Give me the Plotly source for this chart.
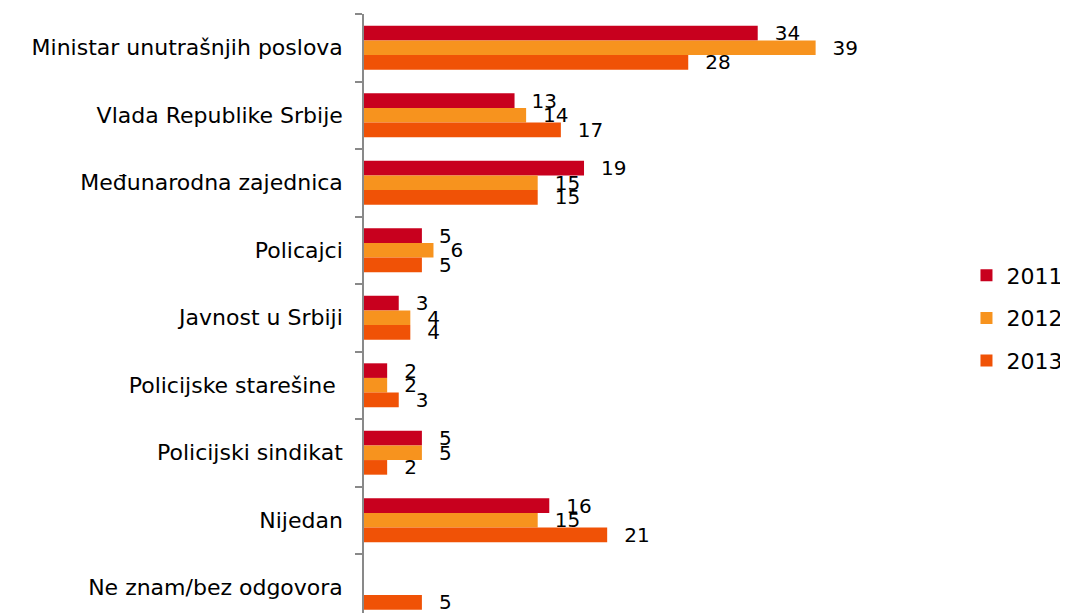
import plotly.graph_objects as go

categories = [
    "Ministar unutrašnjih poslova",
    "Vlada Republike Srbije",
    "Međunarodna zajednica",
    "Policajci",
    "Javnost u Srbiji",
    "Policijske starešine\u00a0",
    "Policijski sindikat",
    "Nijedan",
    "Ne znam/bez odgovora",
]
years = ["2011", "2012", "2013"]
v2011 = [34, 13, 19, 5, 3, 2, 5, 16, None]
v2012 = [39, 14, 15, 6, 4, 2, 5, 15, None]
v2013 = [28, 17, 15, 5, 4, 3, 2, 21, 5]
colors = ["#C8001E", "#F7931E", "#F05206"]

# page body has an 8px margin, so the figure is a bit smaller and shifted
W, H = 1060, 605
left, top = 356, 6
px_per_unit = 11.59
x_max = 50
plot_w = x_max * px_per_unit
cat_px = 67.5
plot_h = H - top
y_bottom = -0.5 + plot_h / cat_px

fig = go.Figure()
for year, vals, col in zip(years, [v2011, v2012, v2013], colors):
    fig.add_trace(go.Bar(
        y=categories, x=vals, name=year, orientation="h",
        marker=dict(color=col, line=dict(width=0)),
        text=["\u2002\u2009" + str(v) if v is not None else "" for v in vals],
        textposition="outside", constraintext="none", cliponaxis=False,
        textfont=dict(family="DejaVu Sans", size=20, color="#000"),
        legendgroup=year, hoverinfo="skip",
    ))

fig.update_layout(
    width=W, height=H,
    margin=dict(l=left, r=W - left - plot_w, t=top, b=0, pad=0),
    barmode="group", bargap=0.35, bargroupgap=0,
    plot_bgcolor="white", paper_bgcolor="white",
    font=dict(family="DejaVu Sans", color="#000"),
    legend=dict(
        x=(959 - left) / plot_w, xanchor="left",
        y=(H - 310) / plot_h, yanchor="middle",
        traceorder="grouped", tracegroupgap=11,
        font=dict(size=22, family="DejaVu Sans"),
    ),
)
fig.update_xaxes(range=[0, x_max], visible=False)
fig.update_yaxes(
    range=[y_bottom, -0.5], showline=True, linecolor="#898989", linewidth=1.5,
    ticks="outside", tickson="boundaries", ticklen=7, tickcolor="#898989", tickwidth=1.5,
    showgrid=False, zeroline=False, ticklabelstandoff=15,
    tickfont=dict(family="DejaVu Sans", size=22, color="#000"),
)

fig.write_html("out.html")
